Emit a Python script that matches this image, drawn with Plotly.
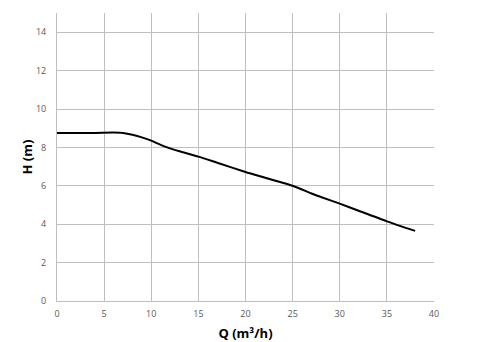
import plotly.graph_objects as go

q = [0, 2, 4, 6, 7, 8, 9, 10, 11, 12, 13, 15, 17, 20, 22, 25, 27, 28, 30, 32, 35, 38]
h = [8.75, 8.75, 8.75, 8.77, 8.75, 8.66, 8.52, 8.35, 8.13, 7.95, 7.8, 7.52, 7.2, 6.72, 6.43, 6.0, 5.6, 5.42, 5.07, 4.7, 4.15, 3.65]

x_ticks = [0, 5, 10, 15, 20, 25, 30, 35, 40]
y_ticks = [0, 2, 4, 6, 8, 10, 12, 14]

fig = go.Figure()
fig.add_trace(go.Scatter(x=q, y=h, mode="lines",
                         line=dict(color="black", width=2, shape="spline", smoothing=0.6),
                         showlegend=False, hoverinfo="skip"))

grid = "#bfbfbf"
tickfont = dict(family="Open Sans, Liberation Sans, sans-serif", size=9, color="#595959")
titlefont = dict(family="Open Sans, Liberation Sans, sans-serif", size=13, color="black", weight="bold")

fig.update_layout(
    width=494, height=342,
    margin=dict(l=57, r=60, t=13, b=41),
    paper_bgcolor="white", plot_bgcolor="white",
    xaxis=dict(range=[0, 40], tickvals=x_ticks, ticktext=[str(v) for v in x_ticks],
               showgrid=True, gridcolor=grid, gridwidth=1,
               showline=True, linecolor=grid, linewidth=1, zeroline=False,
               ticks="", tickfont=tickfont, ticklabelstandoff=4, automargin=False,
               title=dict(text="Q (m³/h)", font=titlefont, standoff=10)),
    yaxis=dict(range=[0, 15], tickvals=y_ticks, ticktext=[str(v) for v in y_ticks],
               showgrid=True, gridcolor=grid, gridwidth=1,
               showline=True, linecolor=grid, linewidth=1, zeroline=False,
               ticks="", tickfont=tickfont, ticklabelstandoff=8, automargin=False,
               title=dict(text="H (m)", font=titlefont, standoff=0)),
)

fig.write_html("out.html")
